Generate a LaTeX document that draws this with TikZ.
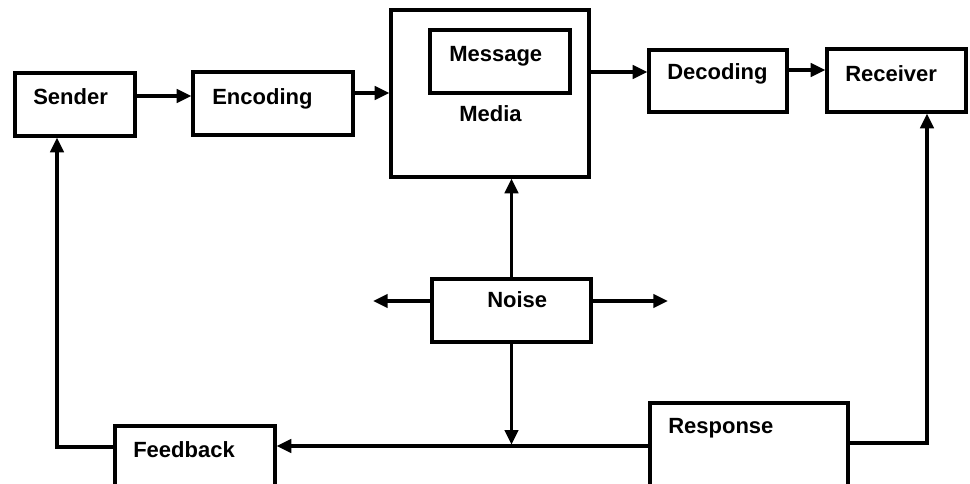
\documentclass[tikz,border=0pt]{standalone}
\usepackage{fontspec}
\setmainfont{Liberation Sans}
\usetikzlibrary{arrows.meta}
\tikzset{
  box/.style={draw, line width=2.4pt, rectangle, inner sep=0pt},
  lbl/.style={inner sep=0pt, anchor=base west, font=\fontsize{16.5}{18}\selectfont\bfseries},
  arr/.style={line width=2.4pt, -{Triangle[length=11pt,width=10pt]}}
}
\begin{document}
\begin{tikzpicture}[x=0.75pt,y=-0.75pt]
\useasboundingbox (0,0) rectangle (970,484);
\clip (0,0) rectangle (970,484);
% boxes
\node[box, minimum width=90pt,    minimum height=47.25pt] (sender)   at (75,104.5) {};
\node[box, minimum width=120pt,   minimum height=47.25pt] (encoding) at (273,103.5) {};
\node[box, minimum width=148.5pt, minimum height=125.25pt] (media)  at (490,93.5) {};
\node[box, minimum width=105pt,   minimum height=47.25pt] (message)  at (500,61.5) {};
\node[box, minimum width=103.5pt, minimum height=46.5pt]  (decoding) at (718,81) {};
\node[box, minimum width=104.25pt,minimum height=47.25pt] (receiver) at (896.5,80.5) {};
\node[box, minimum width=119.25pt,minimum height=47.25pt] (noise)    at (511.5,310.5) {};
\node[box, minimum width=120pt,   minimum height=55.5pt]  (feedback) at (195,463) {};
\node[box, minimum width=148.5pt, minimum height=72.75pt] (response) at (749,451.5) {};
% labels
\node[lbl] (tsender)   at (33,105) {Sender};
\node[lbl] (tencoding) at (212,105) {Encoding};
\node[lbl] (tmessage)  at (449,62) {Message};
\node[lbl] (tmedia)    at (459,122) {Media};
\node[lbl] (tdecoding) at (667,80) {Decoding};
\node[lbl] (treceiver) at (845,82) {Receiver};
\node[lbl] (tnoise)    at (487,308) {Noise};
\node[lbl] (tfeedback) at (133,457) {Feedback};
\node[lbl] (tresponse) at (668,433) {Response};
% helper rows / free ends
\coordinate (rowA) at (0,96);
\coordinate (rowB) at (0,93);
\coordinate (rowC) at (0,72);
\coordinate (rowD) at (0,70);
\coordinate (rowN) at (0,301);
\coordinate (rowF) at (0,446);
\coordinate (rowR) at (0,443);
\coordinate (nleft) at (373,301);
\coordinate (nright) at (668,301);
\coordinate (fbcorner) at (57,447);
\coordinate (rscorner) at (927,443);
\coordinate (njoin) at (511.5,446);
% connectors
\draw[arr] (sender.east |- rowA) -- (encoding.west |- rowA);
\draw[arr] (encoding.east |- rowB) -- (media.west |- rowB);
\draw[arr] (media.east |- rowC) -- (decoding.west |- rowC);
\draw[arr] (decoding.east |- rowD) -- (receiver.west |- rowD);
\draw[arr] (noise.north) -- (noise.north |- media.south);
\draw[arr] (noise.west |- rowN) -- (nleft);
\draw[arr] (noise.east |- rowN) -- (nright);
\draw[arr] (noise.south) -- ([yshift=1pt]njoin);
\draw[arr] (response.west |- rowF) -- (feedback.east |- rowF);
\draw[arr] (feedback.west |- fbcorner) -- (fbcorner) -- (fbcorner |- sender.south);
\draw[arr] (response.east |- rowR) -- (rscorner) -- (rscorner |- receiver.south);
\end{tikzpicture}
\end{document}
